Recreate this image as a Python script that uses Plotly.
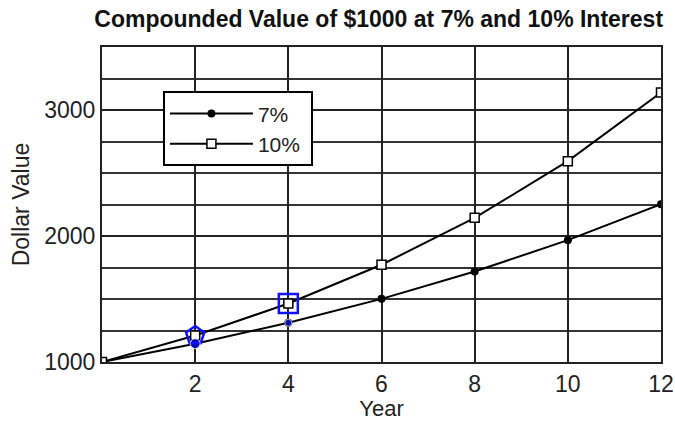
import plotly.graph_objects as go

years = [0, 2, 4, 6, 8, 10, 12]
value_7 = [1000, 1145, 1311, 1501, 1718, 1967, 2252]
value_10 = [1000, 1210, 1464, 1772, 2144, 2594, 3138]
x_ticks = [2, 4, 6, 8, 10, 12]
y_ticks = [1000, 2000, 3000]
marked_idx = [1, 2]  # hand-drawn blue marks at years 2 and 4

FONT = "Liberation Sans, Arial, sans-serif"
fig = go.Figure()
fig.add_trace(go.Scatter(
    x=years, y=value_7, name="7%\u00a0", mode="lines+markers",
    line=dict(color="black", width=2),
    marker=dict(symbol="circle", size=8, color="black"),
))
fig.add_trace(go.Scatter(
    x=years, y=value_10, name="10%\u00a0", mode="lines+markers",
    line=dict(color="black", width=2),
    marker=dict(symbol="square", size=9, color="white", line=dict(color="black", width=1.5)),
))
# blue hand marks
fig.add_trace(go.Scatter(
    x=[years[i] for i in marked_idx], y=[value_10[i] for i in marked_idx],
    mode="markers", showlegend=False, hoverinfo="skip",
    marker=dict(symbol=["pentagon-open", "square-open"], size=19, color="#1010ff",
                line=dict(color="#1010ff", width=2.5)),
))
fig.add_trace(go.Scatter(
    x=[years[i] for i in marked_idx], y=[value_7[i] for i in marked_idx],
    mode="markers", showlegend=False, hoverinfo="skip",
    marker=dict(symbol="circle", size=[10, 7], color="#1010ff"),
))

fig.update_layout(
    width=675, height=421,
    margin=dict(l=102, r=14, t=47, b=59),
    paper_bgcolor="white", plot_bgcolor="white",
    font=dict(family=FONT, color="#222", size=23),
    title=dict(text="<b>Compounded Value of $1000 at 7% and 10% Interest</b>",
               x=0.561, xanchor="center", y=0.955, yanchor="middle",
               font=dict(size=23, color="#111")),
    showlegend=True,
    legend=dict(x=0.109, y=0.859, xanchor="left", yanchor="top",
                bgcolor="white", bordercolor="black", borderwidth=2,
                font=dict(size=21), tracegroupgap=0, itemwidth=83),
)
fig.update_xaxes(
    range=[0, 12], tickvals=x_ticks, ticks="", showgrid=True, automargin=False,
    gridcolor="#222", gridwidth=2, zeroline=False,
    showline=True, linecolor="#222", linewidth=2, mirror=True,
    title=dict(text="Year", standoff=2, font=dict(size=22)),
)
fig.update_yaxes(
    range=[1000, 3500], tickvals=y_ticks, ticks="", showgrid=True, automargin=False,
    gridcolor="#222", gridwidth=2, zeroline=False,
    minor=dict(dtick=250, tick0=1000, showgrid=True, gridcolor="#333", gridwidth=2),
    showline=True, linecolor="#222", linewidth=2, mirror=True,
    title=dict(text="Dollar Value", standoff=8, font=dict(size=23)),
)
fig.write_html(
    "out.html",
    config={"displayModeBar": False},
    post_script="document.body.style.margin='0';document.body.style.padding='0';",
)
